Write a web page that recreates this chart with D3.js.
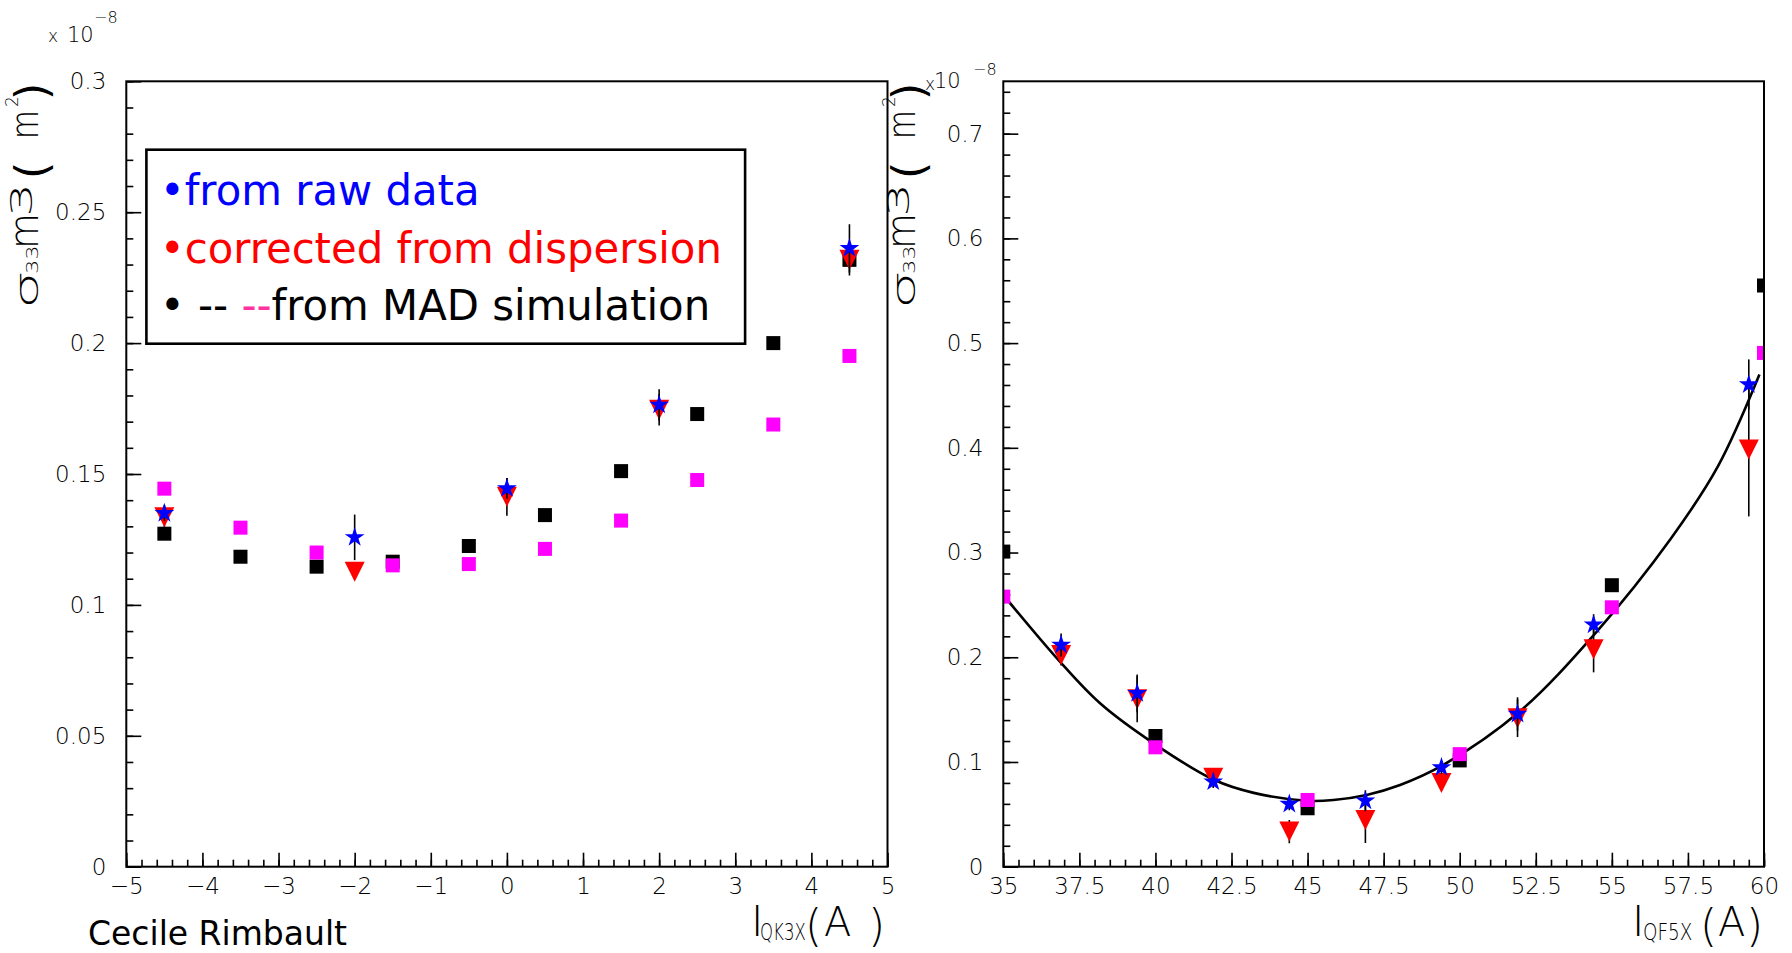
<!DOCTYPE html>
<html>
<head>
<meta charset="utf-8">
<script src="https://cdn.jsdelivr.net/npm/d3@7"></script>
<style>
body{margin:0;background:#fff}
svg{display:block}
.tk text{font-family:"DejaVu Sans",sans-serif;font-weight:200;font-size:23px;fill:#000}
.tk line{stroke:#000;stroke-width:1.6}
.thin{font-family:"DejaVu Sans",sans-serif;font-weight:200;fill:#000}
.ttl{font-family:"DejaVu Sans",sans-serif;font-weight:400;fill:#000}
.leg{font-family:"DejaVu Sans",sans-serif;font-size:41.8px}
</style>
</head>
<body>
<div id="chart"></div>
<script>
// left panel : I_QK3X scan
var left_sim_x = [-4.5, -3.5, -2.5, -1.5, -0.5, 0.5, 1.5, 2.5, 3.5, 4.5];
var left_mad_black = [0.1272, 0.1184, 0.1146, 0.1165, 0.1225, 0.1343, 0.1511, 0.1729, 0.2000, 0.2318];
var left_mad_pink = [0.1444, 0.1295, 0.1200, 0.1151, 0.1156, 0.1214, 0.1322, 0.1477, 0.1689, 0.1951];
var left_meas_x = [-4.5, -2, 0, 2, 4.5];
var left_raw = [0.1350, 0.1258, 0.1445, 0.1764, 0.2362];
var left_raw_err = [0.003, 0.0087, 0.004, 0.006, 0.0092];
var left_corr = [0.1335, 0.1127, 0.1413, 0.1745, 0.2318];
var left_corr_err = [0.0045, 0.003, 0.0072, 0.006, 0.006];
var left_x_ticks = [-5, -4, -3, -2, -1, 0, 1, 2, 3, 4, 5];
var left_x_labels = ['\u22125', '\u22124', '\u22123', '\u22122', '\u22121', '0', '1', '2', '3', '4', '5'];
var left_y_ticks = [0, 0.05, 0.1, 0.15, 0.2, 0.25, 0.3];
var left_y_labels = ['0', '0.05', '0.1', '0.15', '0.2', '0.25', '0.3'];

// right panel : I_QF5X scan
var right_sim_x = [35, 40, 45, 50, 55, 60];
var right_mad_black = [0.3009, 0.1248, 0.0558, 0.1015, 0.2688, 0.555];
var right_mad_pink = [0.2579, 0.1140, 0.0637, 0.1075, 0.2477, 0.4906];
var right_meas_x = [36.9, 39.4, 41.9, 44.4, 46.9, 49.4, 51.9, 54.4, 59.5];
var right_raw = [0.2117, 0.1656, 0.0812, 0.0599, 0.0630, 0.0948, 0.1458, 0.2311, 0.4604];
var right_raw_err = [0.011, 0.018, 0.006, 0.006, 0.010, 0.006, 0.016, 0.010, 0.024];
var right_corr = [0.2022, 0.1600, 0.0850, 0.0335, 0.0446, 0.0800, 0.1418, 0.2076, 0.3985];
var right_corr_err = [0.010, 0.022, 0.006, 0.011, 0.022, 0.006, 0.018, 0.022, 0.064];
var fit_x = [35.0, 36.86, 38.18, 39.94, 41.92, 43.23, 44.97, 45.85, 46.94, 48.04, 49.43, 51.95, 54.49, 56.93, 58.48, 59.85];
var fit_y = [0.2595, 0.1958, 0.156, 0.1178, 0.083, 0.0705, 0.063, 0.0637, 0.0685, 0.078, 0.0967, 0.1477, 0.2241, 0.313, 0.382, 0.470];
var right_x_ticks = [35, 37.5, 40, 42.5, 45, 47.5, 50, 52.5, 55, 57.5, 60];
var right_x_labels = ['35', '37.5', '40', '42.5', '45', '47.5', '50', '52.5', '55', '57.5', '60'];
var right_y_ticks = [0, 0.1, 0.2, 0.3, 0.4, 0.5, 0.6, 0.7];
var right_y_labels = ['0', '0.1', '0.2', '0.3', '0.4', '0.5', '0.6', '0.7'];

var W = 1792, H = 953, TOP = 81.3, BOTTOM = 866.7;
var svg = d3.select('#chart').append('svg').attr('width', W).attr('height', H);
svg.append('rect').attr('width', W).attr('height', H).attr('fill', '#fff');

function zip(xs, ys, es) {
    return xs.map((d, i) => ({x: d, y: ys[i], e: es ? es[i] : 0}));
}

function add_text(parent, txt, x, y, size, sx, cls) {
    var t = parent.append('text').attr('class', cls || 'thin').attr('font-size', size)
        .attr('transform', 'translate(' + x + ',' + y + ')' + (sx ? ' scale(' + sx + ',1)' : '')).text(txt);
    return t;
}

function draw_panel(cfg) {
    var x = d3.scaleLinear().domain(cfg.x_domain).range([cfg.left, cfg.right]);
    var y = d3.scaleLinear().domain(cfg.y_domain).range([BOTTOM, TOP]);
    var g = svg.append('g');
    svg.append('clipPath').attr('id', 'clip' + cfg.id).append('rect')
        .attr('x', cfg.left).attr('y', TOP).attr('width', cfg.right - cfg.left).attr('height', BOTTOM - TOP);

    // ticks, ROOT style : inside the frame, left and bottom only
    var xa = g.append('g').attr('class', 'tk').attr('transform', 'translate(0,' + BOTTOM + ')');
    xa.append('g').call(d3.axisBottom(x).tickValues(cfg.x_minor).tickSize(-7).tickFormat(''));
    xa.append('g').call(d3.axisBottom(x).tickValues(cfg.x_ticks).tickSize(-14).tickPadding(11)
        .tickFormat((d, i) => cfg.x_labels[i]));
    var ya = g.append('g').attr('class', 'tk').attr('transform', 'translate(' + cfg.left + ',0)');
    ya.append('g').call(d3.axisLeft(y).tickValues(cfg.y_minor).tickSize(-7).tickFormat(''));
    ya.append('g').call(d3.axisLeft(y).tickValues(cfg.y_ticks).tickSize(-15).tickPadding(20)
        .tickFormat((d, i) => cfg.y_labels[i]));
    g.selectAll('.tk .domain').remove();
    g.selectAll('.tk g').attr('font-family', null).attr('font-size', null);

    var plot = g.append('g').attr('clip-path', 'url(#clip' + cfg.id + ')');

    if (cfg.fit) {
        var line = d3.line().x(d => x(d.x)).y(d => y(d.y)).curve(d3.curveCatmullRom.alpha(0.5));
        plot.append('path').datum(cfg.fit).attr('d', line).attr('fill', 'none')
            .attr('stroke', '#000').attr('stroke-width', 2.6);
    }

    [[cfg.black, '#000'], [cfg.pink, '#ff00ff']].forEach(function (s) {
        plot.selectAll(null).data(s[0]).enter().append('rect')
            .attr('x', d => x(d.x) - 7).attr('y', d => y(d.y) - 7)
            .attr('width', 14).attr('height', 14).attr('fill', s[1]);
    });

    function err_bars(data) {
        plot.selectAll(null).data(data).enter().append('line')
            .attr('x1', d => x(d.x)).attr('x2', d => x(d.x))
            .attr('y1', d => y(d.y - d.e)).attr('y2', d => y(d.y + d.e))
            .attr('stroke', '#000').attr('stroke-width', 1.6);
    }
    err_bars(cfg.corr);
    plot.selectAll(null).data(cfg.corr).enter().append('path')
        .attr('d', 'M-10,-10L10,-10L0,10Z')
        .attr('transform', d => 'translate(' + x(d.x) + ',' + y(d.y) + ')').attr('fill', '#ff0000');
    err_bars(cfg.raw);
    plot.selectAll(null).data(cfg.raw).enter().append('path')
        .attr('d', d3.symbol().type(d3.symbolStar).size(122))
        .attr('transform', d => 'translate(' + x(d.x) + ',' + y(d.y) + ')').attr('fill', '#0000ff');

    g.append('rect').attr('x', cfg.left).attr('y', TOP)
        .attr('width', cfg.right - cfg.left).attr('height', BOTTOM - TOP)
        .attr('fill', 'none').attr('stroke', '#000').attr('stroke-width', 2);

    // y title  sigma_33 m3 (m^2)
    var yt = g.append('g').attr('transform', 'translate(' + cfg.ytitle_x + ',310) rotate(-90)');
    add_text(yt, '\u03c3', 1, 0, 32, 1.9);
    add_text(yt, '33', 36, 0, 15, 1.5);
    add_text(yt, 'm', 61, 0, 40, 0.92);
    add_text(yt, '3', 93, -6, 30, 1.8);
    add_text(yt, '(', 131, 9, 44, 1, 'ttl');
    add_text(yt, 'm', 171, 0, 37, 0.8);
    add_text(yt, '2', 203, -20, 17);
    add_text(yt, ')', 210, 9, 44, 1, 'ttl');

    // x title  I_sub (A)
    var xt = cfg.xtitle;
    add_text(g, 'I', xt[0], 936, 42);
    add_text(g, cfg.sub, xt[1], 940, 23, xt[2]);
    add_text(g, '(', xt[3], 941, 44);
    add_text(g, 'A', xt[4], 936, 40);
    add_text(g, ')', xt[5], 941, 44);

    // exponent label
    var ex = cfg.exp;
    add_text(g, 'x', ex[0], ex[1], 17);
    add_text(g, '10', ex[2], ex[3], 21);
    add_text(g, '\u22128', ex[4], ex[5], 16);
    return g;
}

draw_panel({
    id: 'l', left: 126.3, right: 887.5, x_domain: [-5, 5], y_domain: [0, 0.3],
    x_ticks: left_x_ticks, x_labels: left_x_labels, x_minor: d3.range(-5, 5.001, 0.2),
    y_ticks: left_y_ticks, y_labels: left_y_labels, y_minor: d3.range(0, 0.3001, 0.01),
    black: zip(left_sim_x, left_mad_black), pink: zip(left_sim_x, left_mad_pink),
    raw: zip(left_meas_x, left_raw, left_raw_err), corr: zip(left_meas_x, left_corr, left_corr_err),
    ytitle_x: 38, sub: 'QK3X', xtitle: [751, 760, 0.72, 805, 824, 868],
    exp: [48, 42, 67, 41.7, 94, 23.3]
});
draw_panel({
    id: 'r', left: 1003.3, right: 1764, x_domain: [35, 60], y_domain: [0, 0.75],
    x_ticks: right_x_ticks, x_labels: right_x_labels, x_minor: d3.range(35, 60.001, 0.5),
    y_ticks: right_y_ticks, y_labels: right_y_labels, y_minor: d3.range(0, 0.7401, 0.02),
    black: zip(right_sim_x, right_mad_black), pink: zip(right_sim_x, right_mad_pink),
    raw: zip(right_meas_x, right_raw, right_raw_err), corr: zip(right_meas_x, right_corr, right_corr_err),
    fit: zip(fit_x, fit_y),
    ytitle_x: 915, sub: 'QF5X', xtitle: [1632, 1643, 0.8, 1700, 1718, 1746],
    exp: [925, 90, 934, 88.3, 973, 75]
});

// legend box
var leg = svg.append('g');
leg.append('rect').attr('x', 146.4).attr('y', 149.7).attr('width', 598.7).attr('height', 194)
    .attr('fill', '#fff').attr('stroke', '#000').attr('stroke-width', 2.6);
leg.append('text').attr('class', 'leg').attr('x', 160).attr('y', 205).attr('fill', '#0000ff').text('\u2022from raw data');
leg.append('text').attr('class', 'leg').attr('x', 160).attr('y', 262.5).attr('fill', '#ff0000').text('\u2022corrected from dispersion');
var l3 = leg.append('text').attr('class', 'leg').attr('x', 160).attr('y', 320).attr('fill', '#000');
l3.append('tspan').text('\u2022 -- ');
l3.append('tspan').attr('fill', '#ff33a0').text('--');
l3.append('tspan').text('from MAD simulation');

svg.append('text').attr('x', 88).attr('y', 945)
    .attr('font-family', '"DejaVu Sans",sans-serif').attr('font-size', 33).text('Cecile Rimbault');
</script>
</body>
</html>
